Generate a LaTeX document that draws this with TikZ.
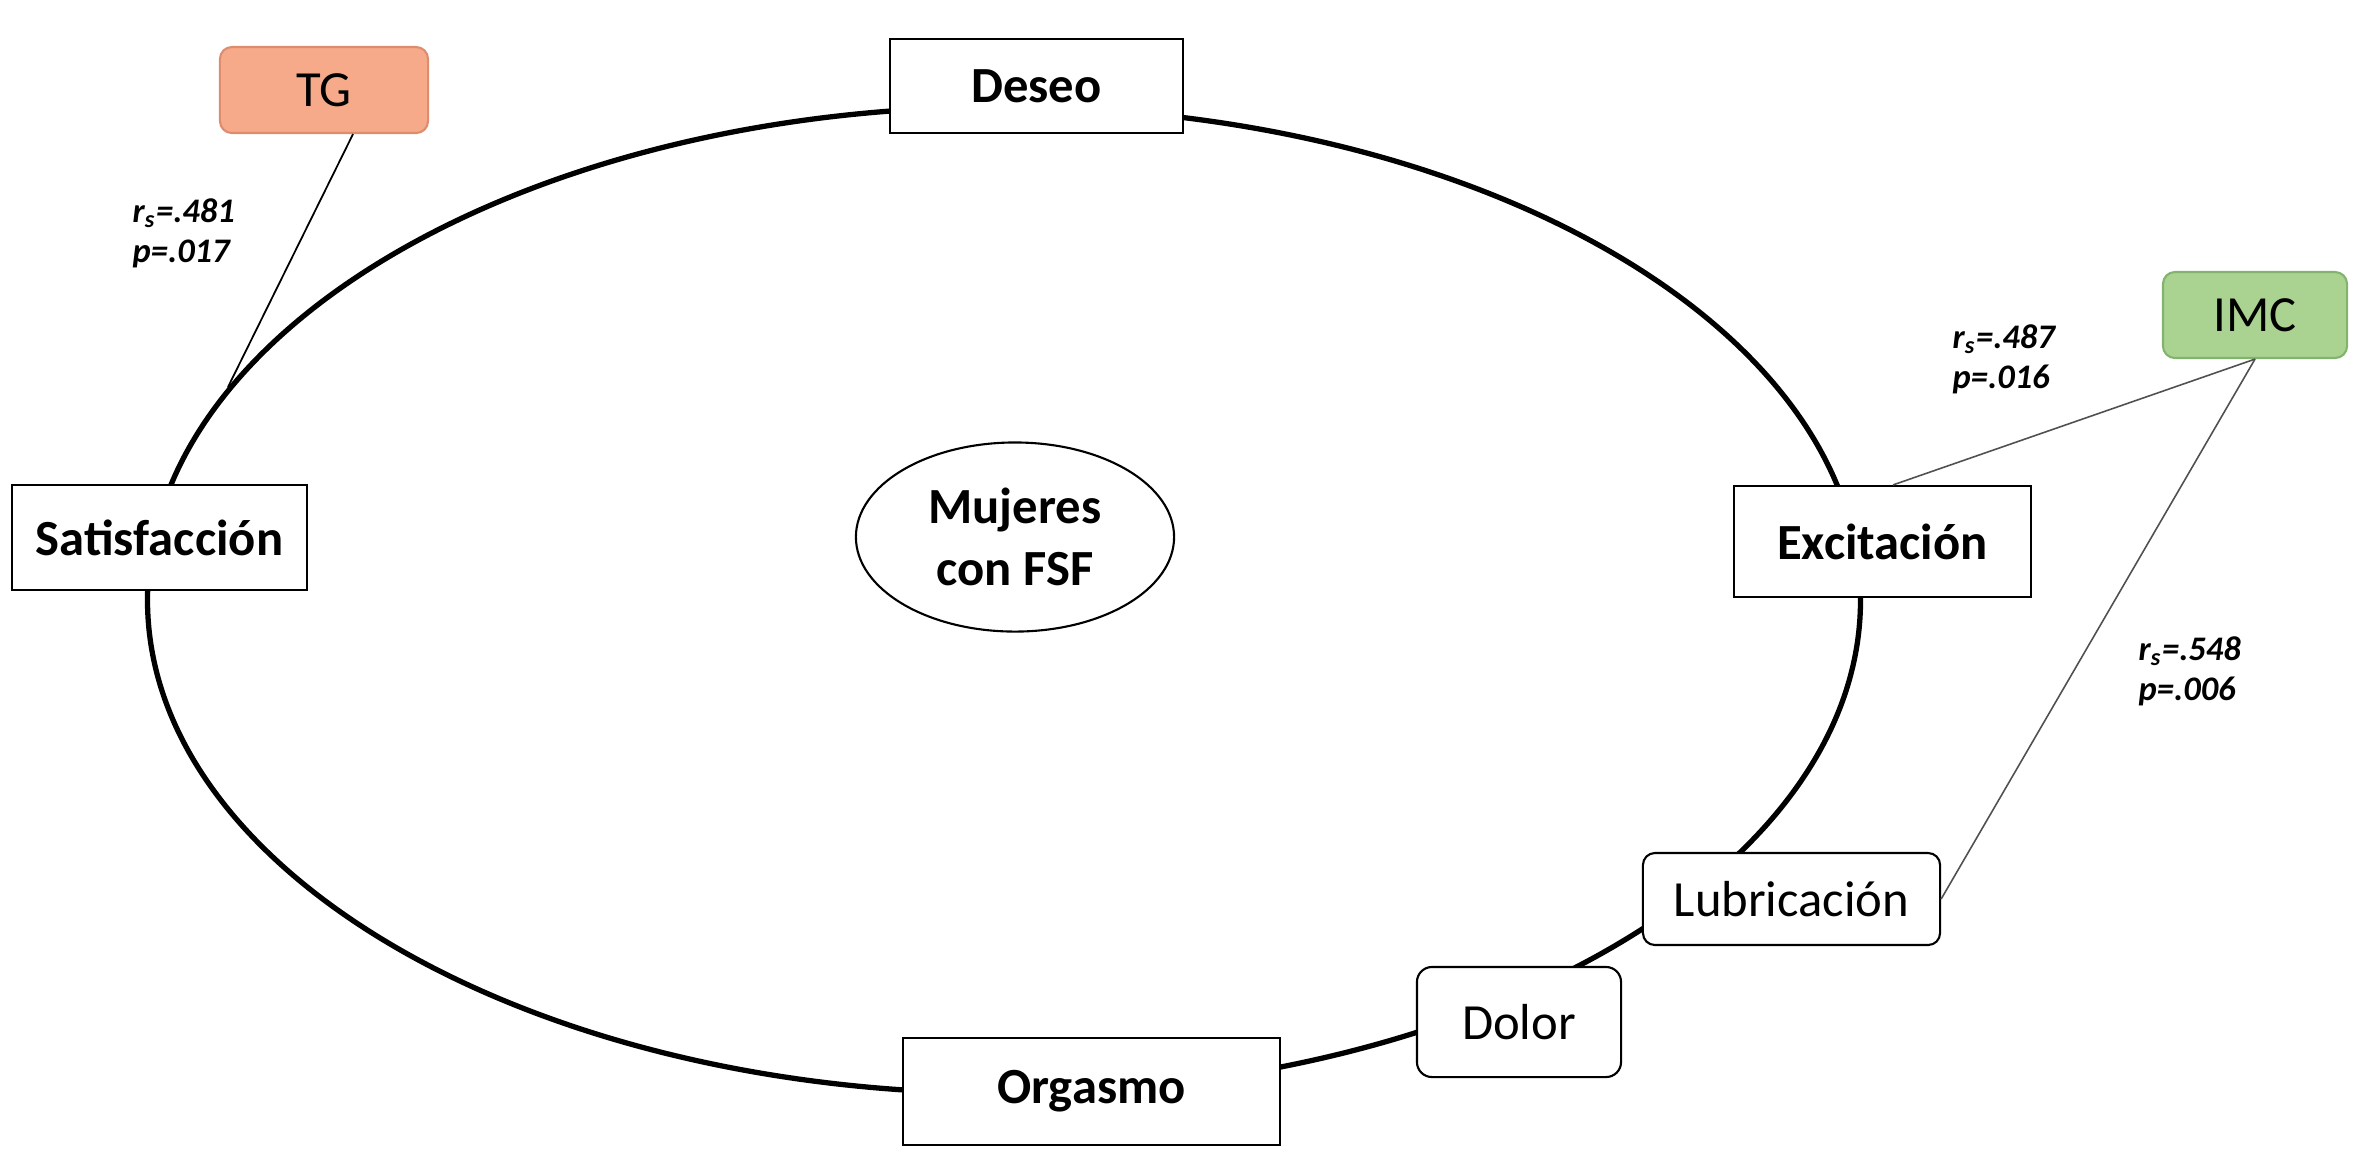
\documentclass[tikz,border=0pt]{standalone}
\usepackage{fontspec}
\setmainfont{Carlito}
\usetikzlibrary{shapes.geometric,calc}
\definecolor{tgfill}{RGB}{246,170,138}
\definecolor{tgdraw}{RGB}{222,140,110}
\definecolor{imcfill}{RGB}{170,210,145}
\definecolor{imcdraw}{RGB}{130,180,110}
\definecolor{linkgray}{RGB}{80,80,80}
\tikzset{
  stage/.style={draw=black, line width=0.6pt, fill=white, font=\fontsize{14.4}{17}\selectfont\bfseries, inner sep=0pt},
  substage/.style={draw=black, line width=0.6pt, fill=white, rounded corners=0.12cm, font=\fontsize{14.4}{17}\selectfont, inner sep=0pt},
  factor/.style={rounded corners=0.12cm, line width=0.6pt, font=\fontsize{14.4}{17}\selectfont, inner sep=0pt},
  stat/.style={font=\fontsize{9.8}{11.4}\selectfont\bfseries\itshape, align=left, anchor=west, inner sep=0pt},
  link/.style={draw=linkgray, line width=0.45pt},
  cycle/.style={draw=black, line width=1.5pt}
}
\begin{document}
\begin{tikzpicture}[x=0.01cm,y=-0.01cm]
\useasboundingbox (0,0) rectangle (2360,1162);
% main cycle
\draw[cycle] (1004,600) ellipse [x radius=8.56cm, y radius=4.93cm];
\coordinate (tgend) at (228,387);
% centre
\node[draw=black, line width=0.6pt, ellipse, minimum width=3.18cm, minimum height=1.89cm, inner sep=0pt, align=center, font=\fontsize{14.4}{17.6}\selectfont\bfseries] (muj) at (1015,537) {Mujeres\\con FSF};
% stages
\node[stage, minimum width=2.93cm, minimum height=0.94cm] (deseo) at (1036.5,86) {Deseo};
\node[stage, minimum width=2.95cm, minimum height=1.05cm] (satis) at (159.5,537.5) {Satisfacción};
\node[stage, minimum width=2.97cm, minimum height=1.11cm] (exc) at (1882.5,541.5) {Excitación};
\node[stage, minimum width=3.77cm, minimum height=1.07cm] (org) at (1091.5,1091.5) {Orgasmo};
\node[substage, minimum width=2.97cm, minimum height=0.92cm] (lub) at (1791.5,899) {Lubricación};
\node[substage, rounded corners=0.15cm, minimum width=2.04cm, minimum height=1.10cm] (dolor) at (1519,1022) {Dolor};
% factors
\node[factor, draw=tgdraw, fill=tgfill, minimum width=2.08cm, minimum height=0.86cm] (tg) at (324,90) {TG};
\node[factor, draw=imcdraw, fill=imcfill, minimum width=1.84cm, minimum height=0.86cm] (imc) at (2255,315) {IMC};
% links
\draw[draw=black, line width=0.5pt] ([xshift=0.29cm]tg.south) -- (tgend);
\draw[link] ([xshift=0.105cm]exc.north) -- (imc.south);
\draw[link] (lub.east) -- (imc.south);
% statistics
\node[stat] (s1) at (132,233) {r\textsubscript{s}=.481\\p=.017};
\node[stat] (s2) at (1952,359) {r\textsubscript{s}=.487\\p=.016};
\node[stat] (s3) at (2138,671) {r\textsubscript{s}=.548\\p=.006};
\end{tikzpicture}
\end{document}
